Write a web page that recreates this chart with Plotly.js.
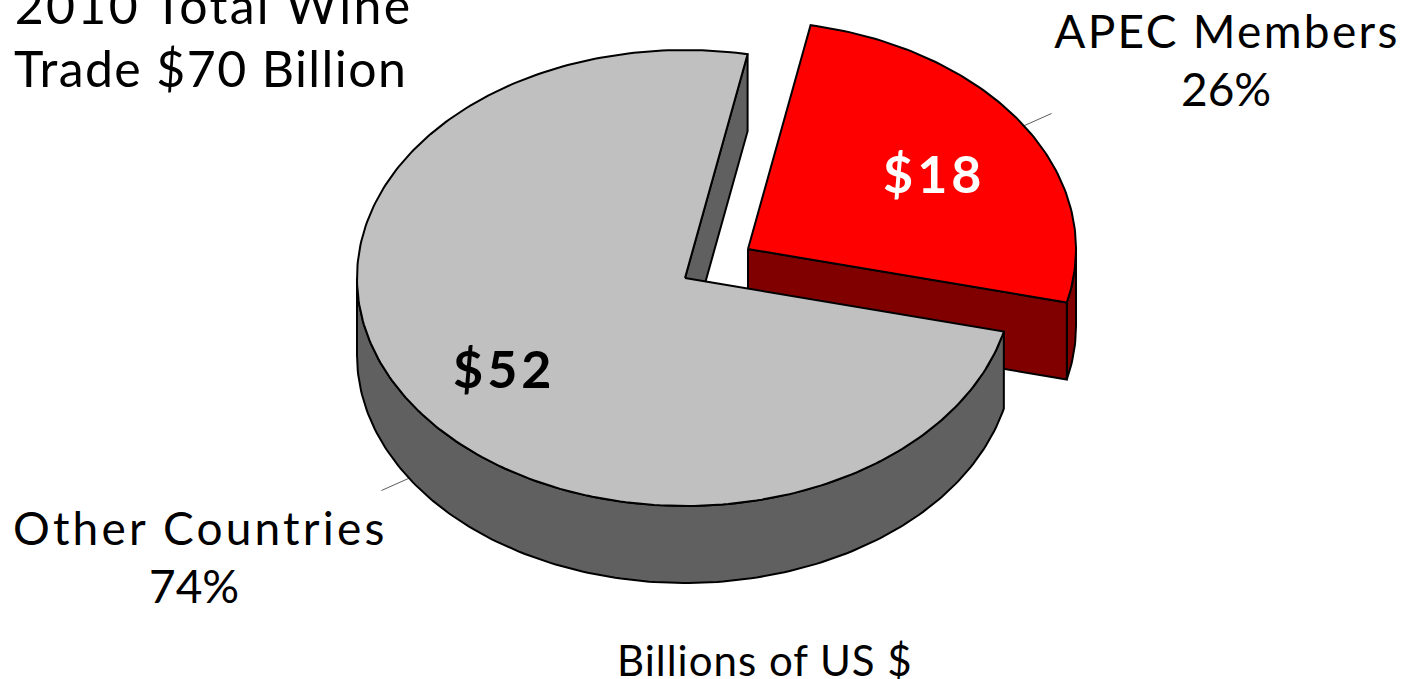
<!DOCTYPE html>
<html>
<head>
<meta charset="utf-8">
<script src="https://cdn.plot.ly/plotly-3.0.1.min.js"></script>
<style>html,body{margin:0;padding:0;background:#fff;overflow:hidden}#c{width:1406px;height:679px}</style>
</head>
<body>
<div id="c"></div>
<script>
const categories = ["APEC Members", "Other Countries"];
const values = [18, 52];
const valueLabels = ["$18", "$52"];
const shareLabels = ["26%", "74%"];
const titleLines = ["2010 Total Wine", "Trade $70 Billion"];
const unitNote = "Billions of US $";

const W = 1406, H = 679;
// projection: unit pie disc centred on the data origin, tilted by the axis scales
const CX = 685, CY = 278, RX = 328, RY = 228;
const DEPTH = 77 / RY, EXX = 63 / RX, EXY = 29 / RY;
const START = 11, total = values[0] + values[1];
const rad = d => d * Math.PI / 180;
const endRed = START + values[0] / total * 360;
const endGray = START + 360;
const LW = 2;

function arc(a, b, ox, oy, r) {
  const xs = [], ys = [], n = Math.max(2, Math.ceil(Math.abs(b - a)));
  for (let i = 0; i <= n; i++) {
    const t = rad(a + (b - a) * i / n);
    xs.push(ox + (r || 1) * Math.sin(t));
    ys.push(oy + (r || 1) * Math.cos(t));
  }
  return [xs, ys];
}
function poly(xs, ys, fill) {
  return {type: "scatter", mode: "lines", x: xs, y: ys, fill: "toself", fillcolor: fill,
    line: {color: "#000", width: LW}, hoverinfo: "skip", showlegend: false};
}
function wall(a, b, ox, oy, fill) {
  const [x1, y1] = arc(a, b, ox, oy);
  const [x2, y2] = arc(b, a, ox, oy - DEPTH);
  return poly(x1.concat(x2, x1[0]), y1.concat(y2, y1[0]), fill);
}
function face(t, ox, oy, fill) {
  const sx = ox + Math.sin(rad(t)), sy = oy + Math.cos(rad(t));
  return poly([ox, sx, sx, ox, ox], [oy, sy, sy - DEPTH, oy - DEPTH, oy], fill);
}
function disc(a, b, ox, oy, fill) {
  const [x, y] = arc(a, b, ox, oy);
  return poly([ox].concat(x, ox), [oy].concat(y, oy), fill);
}
function leader(mid, ox, oy) {
  const [x, y] = arc(mid, mid, ox, oy);
  const [x2, y2] = arc(mid, mid, ox, oy, 1.1);
  return {type: "scatter", mode: "lines", x: [x[0], x2[0]], y: [y[0], y2[0]],
    line: {color: "#333", width: 0.8}, hoverinfo: "skip", showlegend: false};
}

const midRed = (START + endRed) / 2, midGray = (endRed + endGray) / 2;
const traces = [
  leader(midRed, EXX, EXY),
  leader(midGray, 0, -DEPTH),
  wall(90, endRed, EXX, EXY, "#800000"),
  face(endRed, EXX, EXY, "#800000"),
  disc(START, endRed, EXX, EXY, "#FF0000"),
  face(START, 0, 0, "#606060"),
  wall(endRed, 270, 0, 0, "#606060"),
  disc(endRed, endGray, 0, 0, "#C0C0C0")
];

const spacing = [];
function note(text, x, y, size, sp, color) {
  spacing.push(sp);
  return {text, x: (x + sp / 2) / W, y: 1 - y / H, xref: "paper", yref: "paper", xanchor: "center", yanchor: "middle",
    showarrow: false, borderpad: 0, font: {family: "Lato, sans-serif", size, color: color || "#000"}};
}
const annotations = [
  note(titleLines[0], 212, 5.5, 50, 2.3),
  note(titleLines[1], 209.5, 68.5, 50, 1.4),
  note(categories[0], 1225.5, 31, 46, 2.3),
  note(shareLabels[0], 1226, 89, 46, 0),
  note(categories[1], 198.5, 527, 46, 3.2),
  note(shareLabels[1], 194, 585, 46, 0),
  note(unitNote, 764.5, 660, 42, 1),
  note("<b>" + valueLabels[0] + "</b>", 932, 173, 52, 4, "#fff"),
  note("<b>" + valueLabels[1] + "</b>", 502, 368, 52, 4)
];

const layout = {
  width: W, height: H, margin: {l: 0, r: 0, t: 0, b: 0}, paper_bgcolor: "#fff", plot_bgcolor: "#fff",
  showlegend: false,
  xaxis: {visible: false, range: [-CX / RX, (W - CX) / RX]},
  yaxis: {visible: false, range: [(CY - H) / RY, CY / RY]},
  annotations
};
Plotly.newPlot("c", traces, layout, {displayModeBar: false, staticPlot: true}).then(() => {
  document.querySelectorAll("#c .annotation-text").forEach((el, i) => {
    el.style.letterSpacing = spacing[i] + "px";
  });
});
</script>
</body>
</html>
